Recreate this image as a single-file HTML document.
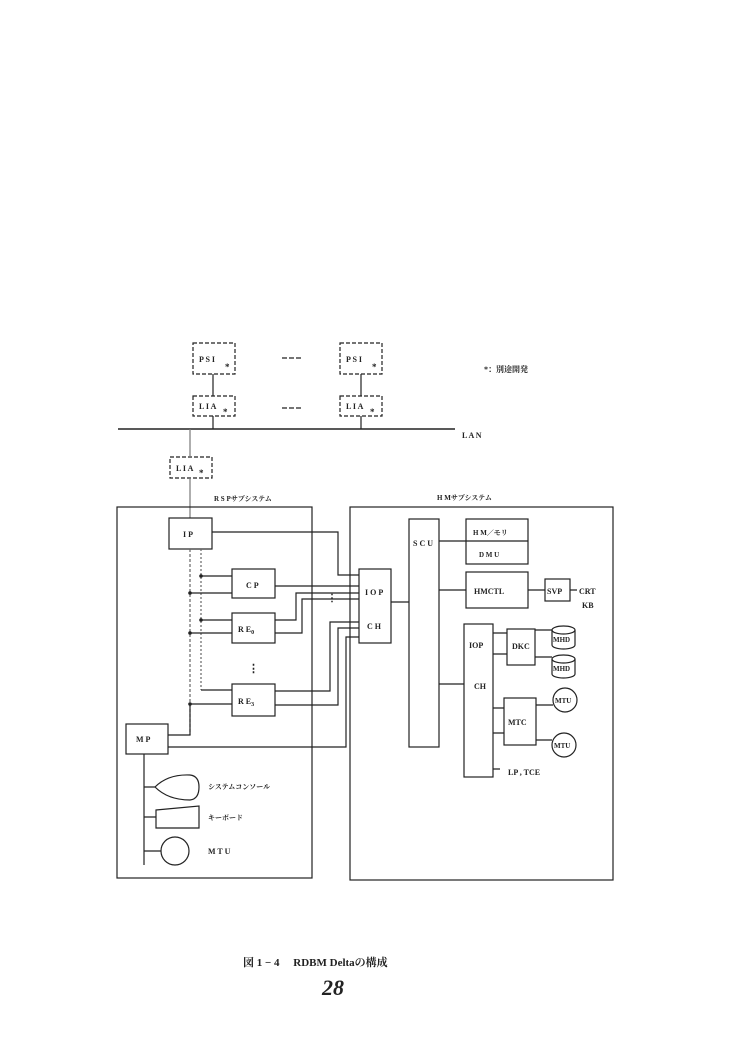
<!DOCTYPE html>
<html><head><meta charset="utf-8"><style>
body{margin:0;background:#fff}
svg text{font-family:"Liberation Serif","Noto Serif CJK SC",serif;fill:#222;font-weight:bold}
</style></head><body>
<svg width="750" height="1054" viewBox="0 0 750 1054" xmlns="http://www.w3.org/2000/svg">
<g stroke="#222" stroke-width="1.2" fill="none">
<g stroke-dasharray="4,2">
<rect x="193" y="343" width="42" height="31"/>
<rect x="340" y="343" width="42" height="31"/>
<rect x="193" y="396" width="42" height="20"/>
<rect x="340" y="396" width="42" height="20"/>
<rect x="170" y="457" width="42" height="21"/>
</g>
<line x1="213" y1="374" x2="213" y2="396"/>
<line x1="361" y1="374" x2="361" y2="396"/>
<line x1="213" y1="416" x2="213" y2="429"/>
<line x1="361" y1="416" x2="361" y2="429"/>
<line x1="118" y1="429" x2="455" y2="429" stroke-width="1.5"/>
<line x1="282" y1="358" x2="302" y2="358" stroke-dasharray="5,2"/>
<line x1="282" y1="408" x2="302" y2="408" stroke-dasharray="5,2"/>
<line x1="190" y1="429" x2="190" y2="457" stroke="#777"/>
<line x1="190" y1="478" x2="190" y2="518" stroke="#777"/>
<rect x="117" y="507" width="195" height="371"/>
<rect x="350" y="507" width="263" height="373"/>
<rect x="169" y="518" width="43" height="31"/>
<rect x="232" y="569" width="43" height="29"/>
<rect x="232" y="613" width="43" height="30"/>
<rect x="232" y="684" width="43" height="32"/>
<rect x="126" y="724" width="42" height="30"/>
<line x1="190" y1="549" x2="190" y2="735" stroke-dasharray="3,2" stroke="#666"/>
<line x1="201" y1="549" x2="201" y2="690" stroke-dasharray="2,2" stroke="#666"/>
<path d="M201 576H232M190 593H232M201 620H232M190 633H232M201 690H232M190 704H232M168 735H190V704"/>
<path d="M212 532H338V575H359M275 586H359M275 620H296V593H359M275 633H302V599H359M275 691H330V622H359M275 705H338V628H359M168 747H346V637H359"/>
<rect x="359" y="569" width="32" height="74" fill="#fff"/>
<line x1="391" y1="602" x2="409" y2="602"/>
<path d="M144 754V865M144 787H155M144 817H156M144 851H161"/>
<path d="M155 787Q168 774 190 775Q199 776 199 787Q199 799 190 800Q168 800 155 787Z"/>
<path d="M156 810L199 806V828H156Z"/>
<circle cx="175" cy="851" r="14"/>
<rect x="409" y="519" width="30" height="228"/>
<rect x="466" y="519" width="62" height="45"/>
<line x1="466" y1="541" x2="528" y2="541"/>
<rect x="466" y="572" width="62" height="36"/>
<rect x="545" y="579" width="25" height="22"/>
<rect x="464" y="624" width="29" height="153"/>
<rect x="507" y="629" width="28" height="36"/>
<rect x="504" y="698" width="32" height="47"/>
<path d="M439 541H466M439 590H466M528 590H545M570 590H577M439 684H464M493 633H507M493 654H507M535 630H552M535 657H552M493 708H504M493 733H504M536 705H553M536 740H552M493 769H500"/>
<path d="M552 630V645A11.5 4 0 0 0 575 645V630"/><ellipse cx="563.5" cy="630" rx="11.5" ry="4"/>
<path d="M552 659V674A11.5 4 0 0 0 575 674V659"/><ellipse cx="563.5" cy="659" rx="11.5" ry="4"/>
<circle cx="565" cy="700" r="12"/>
<circle cx="564" cy="745" r="12"/>
</g>
<g fill="#222">
<circle cx="201" cy="576" r="1.8"/><circle cx="190" cy="593" r="1.8"/>
<circle cx="201" cy="620" r="1.8"/><circle cx="190" cy="633" r="1.8"/>
<circle cx="190" cy="704" r="1.8"/>
</g>
<g font-size="9">
<text x="199" y="362" font-size="8">P S I</text><text x="225" y="370" font-size="9">*</text>
<text x="346" y="362" font-size="8">P S I</text><text x="372" y="370" font-size="9">*</text>
<text x="199" y="409" font-size="8">L I A</text><text x="223" y="415" font-size="9">*</text>
<text x="346" y="409" font-size="8">L I A</text><text x="370" y="415" font-size="9">*</text>
<text x="176" y="471" font-size="8">L I A</text><text x="199" y="476" font-size="9">*</text>
<text x="484" y="372" font-size="8">*：別途開発</text>
<text x="462" y="438" font-size="8">L A N</text>
<text x="214" y="501" font-size="7">R S Pサブシステム</text>
<text x="437" y="500" font-size="7">H Mサブシステム</text>
<text x="183" y="537" font-size="8">I P</text>
<text x="246" y="588" font-size="8">C P</text>
<text x="238" y="632" font-size="8">R E<tspan font-size="6" dy="2">0</tspan></text>
<text x="238" y="704" font-size="8">R E<tspan font-size="6" dy="2">3</tspan></text>
<text x="136" y="742" font-size="8">M P</text>
<text x="365" y="595" font-size="8">I O P</text>
<text x="367" y="629" font-size="8">C H</text>
<text x="413" y="546" font-size="8">S C U</text>
<text x="473" y="535" font-size="7">H M／モリ</text>
<text x="479" y="557" font-size="7">D M U</text>
<text x="474" y="594" font-size="8">HMCTL</text>
<text x="547" y="594" font-size="8">SVP</text>
<text x="579" y="594" font-size="8">CRT</text>
<text x="582" y="608" font-size="8">KB</text>
<text x="469" y="648" font-size="8">IOP</text>
<text x="474" y="689" font-size="8">CH</text>
<text x="512" y="649" font-size="8">DKC</text>
<text x="508" y="725" font-size="8">MTC</text>
<text x="553" y="642" font-size="7">MHD</text>
<text x="553" y="671" font-size="7">MHD</text>
<text x="555" y="703" font-size="7">MTU</text>
<text x="554" y="748" font-size="7">MTU</text>
<text x="508" y="775" font-size="8">LP , TCE</text>
<text x="208" y="789" font-size="7">システムコンソール</text>
<text x="208" y="820" font-size="7">キーボード</text>
<text x="208" y="854" font-size="8">M T U</text>
<text x="327" y="601" font-size="10">⋮</text>
<text x="248" y="672" font-size="11">⋮</text>
<text x="243" y="966" font-size="11">図 1 − 4　 RDBM  Deltaの構成</text>
<text x="322" y="995" font-size="22" font-style="italic" font-weight="normal">28</text>
</g>
</svg>
</body></html>
